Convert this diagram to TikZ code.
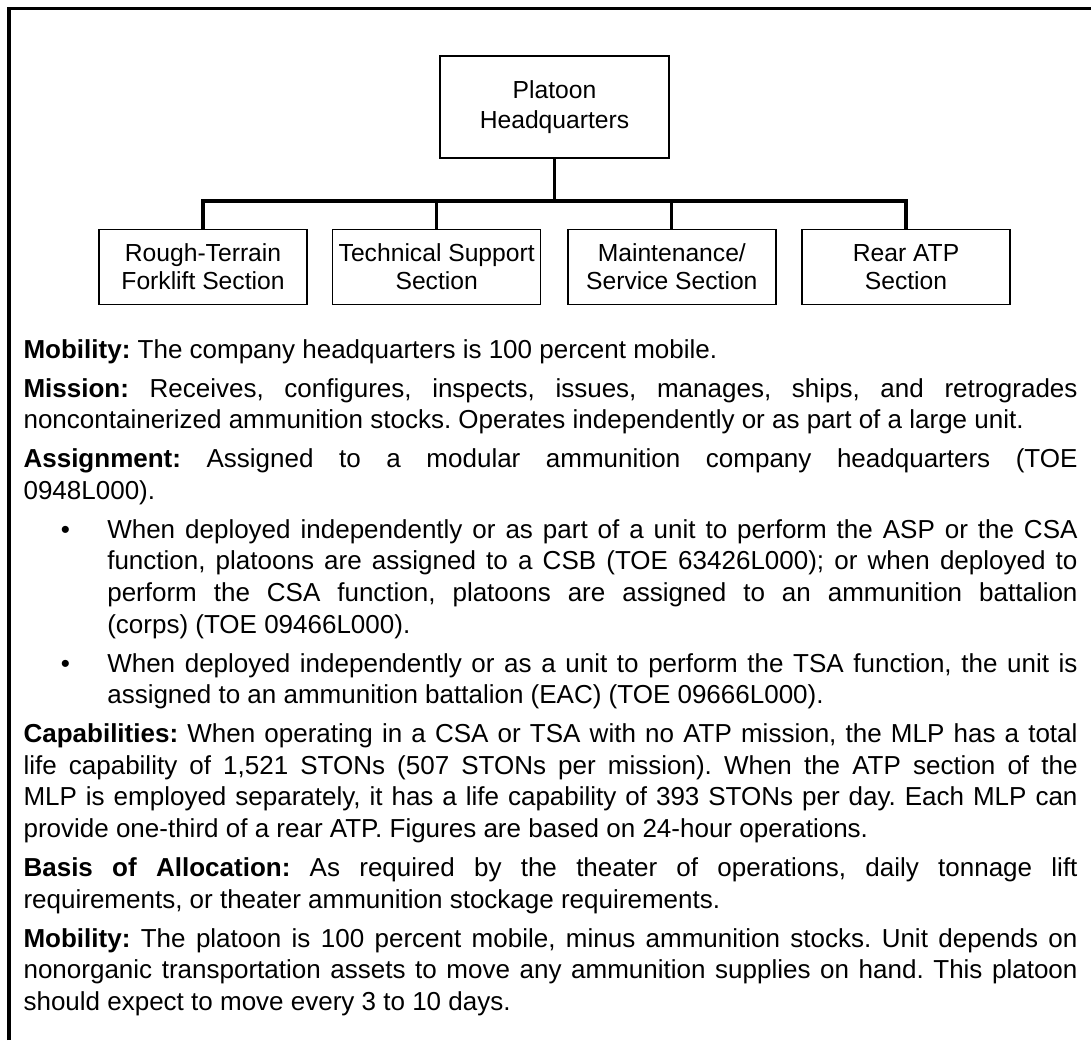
\documentclass[tikz,border=0pt]{standalone}
\usepackage{fontspec}
\setmainfont{Liberation Sans}
\usepackage{tikz}

\begin{document}
\begin{tikzpicture}[x=0.75pt,y=-0.75pt,
		unit/.style={draw,rectangle,line width=1.1pt,inner sep=0pt,align=center,font=\fontsize{18.5}{21}\selectfont,minimum width=156pt,minimum height=56.25pt},
		link/.style={line width=2.3pt}]
			\useasboundingbox (0,0) rectangle (1091,1040);
			\draw[line width=2.4pt] (9,1040) -- (9,8.5) -- (1091,8.5);
			\node[unit,minimum width=171.75pt,minimum height=76.5pt,font=\fontsize{18.5}{23}\selectfont] (HQ)at(554.5,107) {Platoon\\Headquarters};
			\node[unit] (S1)at(203,266.8) {Rough-Terrain\\Forklift Section};
			\node[unit] (S2)at(436.7,266.8) {Technical Support\\Section};
			\node[unit] (S3)at(671.8,266.8) {Maintenance/\\Service Section};
			\node[unit] (S4)at(906,266.8) {Rear ATP\\Section};
			\coordinate (B)at(554.5,201);
			\draw[link] (HQ) -- (B);
			\draw[link] (B) -| (S1);
			\draw[link] (B) -| (S2);
			\draw[link] (B) -| (S3);
			\draw[link] (B) -| (S4);
			\node[anchor=north west,inner sep=0pt,text width=790.5pt,align=justify,font=\fontsize{19.5}{23.7}\selectfont] (notes)at(23.3,336.4) {%
				\parindent=0pt \hyphenpenalty=10000 \exhyphenpenalty=10000 \tolerance=10000 \hbadness=10000 \frenchspacing
				\rule{0pt}{16pt}\textbf{Mobility:} The company headquarters is 100 percent mobile.\par\vspace{5.55pt}
				\textbf{Mission:} Receives, configures, inspects, issues, manages, ships, and retrogrades\linebreak
				noncontainerized ammunition stocks. Operates independently or as part of a large unit.\par\vspace{5.55pt}
				\textbf{Assignment:} Assigned to a modular ammunition company headquarters (TOE\linebreak
				0948L000).\par\vspace{5.55pt}
				{\leftskip=62.8pt \noindent\llap{•\hspace{28pt}}When deployed independently or as part of a unit to perform the ASP or the CSA\linebreak
				function, platoons are assigned to a CSB (TOE 63426L000); or when deployed to\linebreak
				perform the CSA function, platoons are assigned to an ammunition battalion\linebreak
				(corps) (TOE 09466L000).\par}\vspace{5.55pt}
				{\leftskip=62.8pt \noindent\llap{•\hspace{28pt}}When deployed independently or as a unit to perform the TSA function, the unit is\linebreak
				assigned to an ammunition battalion (EAC) (TOE 09666L000).\par}\vspace{5.55pt}
				\textbf{Capabilities:} When operating in a CSA or TSA with no ATP mission, the MLP has a total\linebreak
				life capability of 1,521 STONs (507 STONs per mission). When the ATP section of the\linebreak
				MLP is employed separately, it has a life capability of 393 STONs per day. Each MLP can\linebreak
				provide one-third of a rear ATP. Figures are based on 24-hour operations.\par\vspace{5.55pt}
				\textbf{Basis of Allocation:} As required by the theater of operations, daily tonnage lift\linebreak
				requirements, or theater ammunition stockage requirements.\par\vspace{5.55pt}
				\textbf{Mobility:} The platoon is 100 percent mobile, minus ammunition stocks. Unit depends on\linebreak
				nonorganic transportation assets to move any ammunition supplies on hand. This platoon\linebreak
				should expect to move every 3 to 10 days.};
			\end{tikzpicture}
\end{document}
